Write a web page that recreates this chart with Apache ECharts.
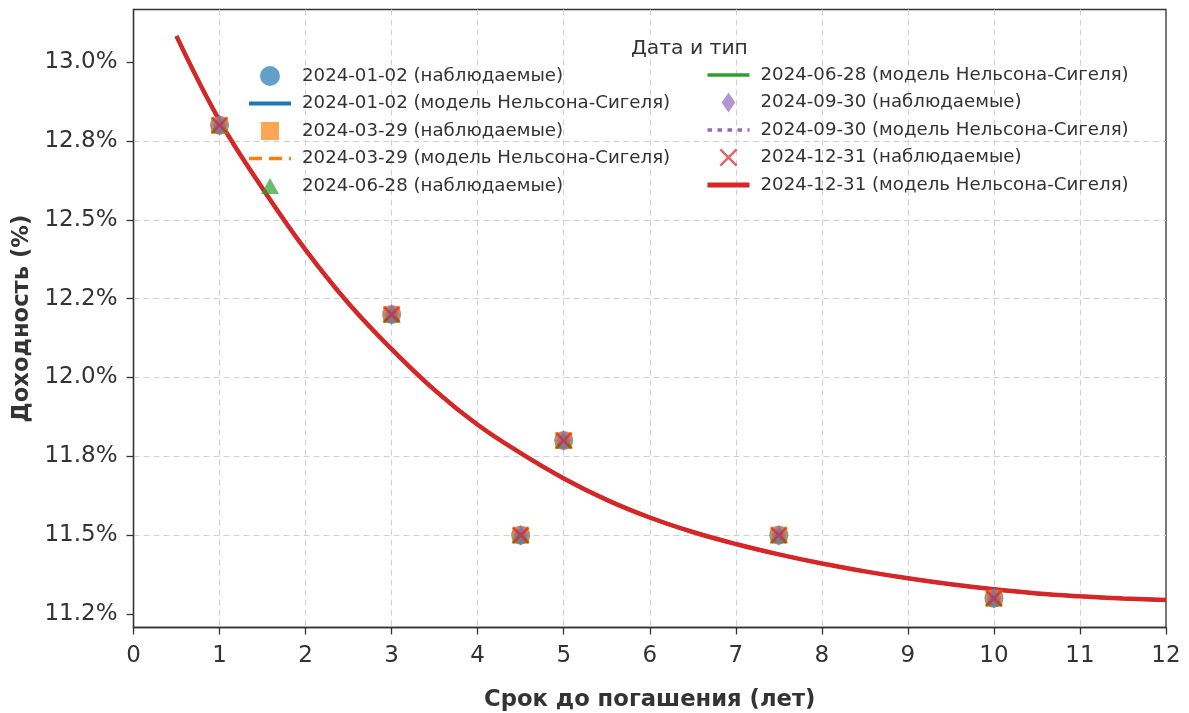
<!DOCTYPE html>
<html>
<head>
<meta charset="utf-8">
<script src="https://cdn.jsdelivr.net/npm/echarts@6/dist/echarts.min.js"></script>
<style>
html,body{margin:0;padding:0;background:#fff;}
#chart{width:1189px;height:713px;}
</style>
</head>
<body>
<div id="chart"></div>
<script>
// ---- data ----
const dates = ['2024-01-02', '2024-03-29', '2024-06-28', '2024-09-30', '2024-12-31'];
const maturities = [1, 3, 4.5, 5, 7.5, 10];
const obs_20240102 = [12.8, 12.2, 11.5, 11.8, 11.5, 11.3];
const obs_20240329 = [12.8, 12.2, 11.5, 11.8, 11.5, 11.3];
const obs_20240628 = [12.8, 12.2, 11.5, 11.8, 11.5, 11.3];
const obs_20240930 = [12.8, 12.2, 11.5, 11.8, 11.5, 11.3];
const obs_20241231 = [12.8, 12.2, 11.5, 11.8, 11.5, 11.3];
const modelX = [0.5, 1, 1.5, 2, 2.5, 3, 3.5, 4, 4.5, 5, 5.5, 6, 6.5, 7, 7.5, 8, 8.5, 9, 9.5, 10, 10.5, 11, 11.5, 12];
const model_20240102 = [13.083, 12.815, 12.600, 12.405, 12.235, 12.090, 11.960, 11.850, 11.760, 11.680, 11.612, 11.556, 11.510, 11.472, 11.439, 11.410, 11.385, 11.363, 11.344, 11.328, 11.315, 11.306, 11.299, 11.294];
const model_20240329 = model_20240102.slice();
const model_20240628 = model_20240102.slice();
const model_20240930 = model_20240102.slice();
const model_20241231 = model_20240102.slice();
const yTickValues = [11.25, 11.5, 11.75, 12.0, 12.25, 12.5, 12.75, 13.0];
const yTickLabels = ['11.2%', '11.5%', '11.8%', '12.0%', '12.2%', '12.5%', '12.8%', '13.0%'];
const xTickLabels = ['0','1','2','3','4','5','6','7','8','9','10','11','12'];

// ---- styling ----
const colors = ['#1f77b4', '#ff7f0e', '#2ca02c', '#9467bd', '#d62728'];
const obsArrays = [obs_20240102, obs_20240329, obs_20240628, obs_20240930, obs_20241231];
const modelArrays = [model_20240102, model_20240329, model_20240628, model_20240930, model_20241231];
const X_PATH = 'path://M0,1.6 L1.6,0 L7,5.4 L12.4,0 L14,1.6 L8.6,7 L14,12.4 L12.4,14 L7,8.6 L1.6,14 L0,12.4 L5.4,7 Z';
const D_PATH = 'path://M6.8,0 L13.6,10 L6.8,20 L0,10 Z';
const symbols = ['circle', 'rect', 'triangle', D_PATH, X_PATH];
const symbolSizes = [19, 17, [18, 16], [14, 21], 17];
// legend icons (padded to a 20x20 box)
const legendIcons = [
  'circle',
  'path://M0,0 L0,0 M1,1 L19,1 L19,19 L1,19 Z M20,20 L20,20',
  'path://M0,0 L0,0 M10,2 L19,18 L1,18 Z M20,20 L20,20',
  D_PATH,
  'path://M0,0 L0,0 M1,2.8 L2.8,1 L10,8.2 L17.2,1 L19,2.8 L11.8,10 L19,17.2 L17.2,19 L10,11.8 L2.8,19 L1,17.2 L8.2,10 Z M20,20 L20,20'
];
const lineTypes = ['solid', [13, 7], 'solid', [4.5, 5.5], 'solid'];
const lineWidths = [3.5, 3, 3, 3, 4.5];
const OBS = ' (наблюдаемые)';
const MOD = ' (модель Нельсона-Сигеля)';

const series = [];
const legendNames = [];
dates.forEach((d, i) => {
  series.push({
    name: d + OBS,
    type: 'scatter',
    data: maturities.map((m, k) => [m, obsArrays[i][k]]),
    symbol: symbols[i],
    symbolSize: symbolSizes[i],
    itemStyle: { color: colors[i], opacity: 0.7 },
    z: 3
  });
  series.push({
    name: d + MOD,
    type: 'line',
    data: modelX.map((m, k) => [m, modelArrays[i][k]]),
    symbol: 'none',
    smooth: 0.4,
    lineStyle: { color: colors[i], width: lineWidths[i], type: lineTypes[i], cap: 'butt' },
    itemStyle: { color: colors[i] },
    z: 3
  });
  legendNames.push({ name: d + OBS, kind: 'obs', i: i });
  legendNames.push({ name: d + MOD, kind: 'mod', i: i });
});

function legendData(list) {
  return list.map(o => o.kind === 'mod'
    ? { name: o.name, lineStyle: { width: lineWidths[o.i] + 0.5 }, itemStyle: { opacity: 0 } }
    : { name: o.name, icon: legendIcons[o.i] });
}

const legendCommon = {
  orient: 'vertical',
  itemWidth: 42,
  itemHeight: 20,
  itemGap: 8.5,
  padding: 0,
  top: 66,
  selectedMode: false,
  symbolKeepAspect: true,
  textStyle: { fontFamily: 'DejaVu Sans', fontSize: 18.2, color: '#333', padding: [0, 0, 0, 6] }
};

const axisNameStyle = { fontFamily: 'DejaVu Sans', fontSize: 22.7, fontWeight: 'bold', color: '#333' };
const gridLine = { show: true, showMinLine: false, showMaxLine: false, lineStyle: { color: '#d0d0d0', width: 1, type: [6, 4] } };

const chart = echarts.init(document.getElementById('chart'), null, { renderer: 'canvas' });
chart.setOption({
  backgroundColor: '#fff',
  animation: false,
  title: {
    text: 'Дата и тип',
    left: 631,
    top: 38.5,
    padding: 0,
    textStyle: { fontFamily: 'DejaVu Sans', fontSize: 20.3, fontWeight: 'normal', color: '#333' }
  },
  legend: [
    Object.assign({}, legendCommon, { left: 247, data: legendData(legendNames.slice(0, 5)) }),
    Object.assign({}, legendCommon, { left: 705, data: legendData(legendNames.slice(5)) })
  ],
  grid: {
    left: 133.5, right: 23, top: 9.5, bottom: 85.5,
    show: true, borderColor: '#333', borderWidth: 1.3, backgroundColor: 'transparent',
    containLabel: false,
    outerBoundsMode: 'none'
  },
  xAxis: {
    type: 'value',
    min: 0, max: 12, interval: 1,
    name: 'Срок до погашения (лет)',
    nameLocation: 'middle',
    nameGap: 61,
    nameTextStyle: axisNameStyle,
    axisLine: { show: true, lineStyle: { color: '#333', width: 1.3 } },
    axisTick: { show: true, length: 7, lineStyle: { color: '#333', width: 1.3 } },
    axisLabel: {
      fontFamily: 'DejaVu Sans', fontSize: 23, color: '#333', margin: 17,
      formatter: v => xTickLabels[Math.round(v)]
    },
    splitLine: gridLine
  },
  yAxis: {
    type: 'value',
    min: 11.207, max: 13.1675,
    name: 'Доходность (%)',
    nameLocation: 'middle',
    nameGap: 100,
    nameTextStyle: axisNameStyle,
    axisLine: { show: true, lineStyle: { color: '#333', width: 1.3 } },
    axisTick: { show: true, length: 7, customValues: yTickValues, lineStyle: { color: '#333', width: 1.3 } },
    axisLabel: {
      fontFamily: 'DejaVu Sans', fontSize: 23, color: '#333', margin: 16,
      padding: [3, 0, 0, 0],
      customValues: yTickValues,
      formatter: v => {
        const k = yTickValues.findIndex(t => Math.abs(t - v) < 1e-6);
        return k >= 0 ? yTickLabels[k] : '';
      }
    },
    splitLine: gridLine
  },
  series: series
});
</script>
</body>
</html>
